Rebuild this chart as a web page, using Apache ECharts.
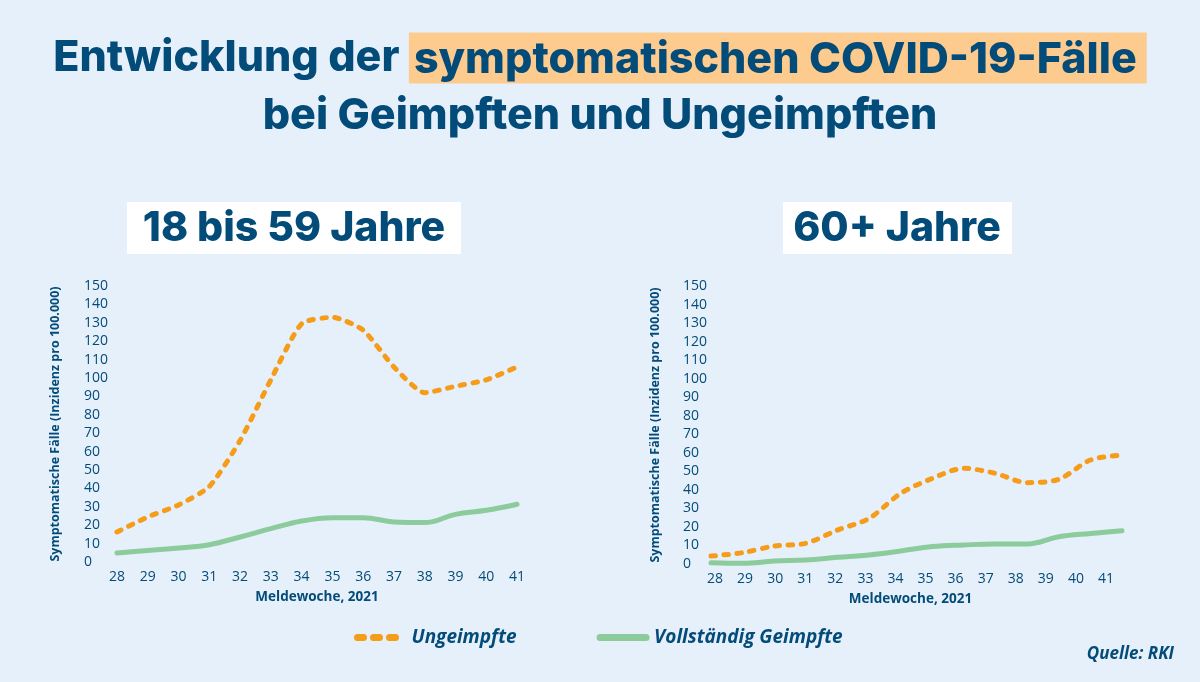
<!DOCTYPE html>
<html>
<head>
<meta charset="utf-8">
<script src="https://cdn.jsdelivr.net/npm/echarts@6/dist/echarts.min.js"></script>
<style>
  html, body { margin: 0; padding: 0; background: #e6f0fa; }
  #main { width: 1200px; height: 682px; }
</style>
</head>
<body>
<div id="main"></div>
<script>
// Meldewochen 2021
const weeks = ['28', '29', '30', '31', '32', '33', '34', '35', '36', '37', '38', '39', '40', '41'];

// 18 bis 59 Jahre
const youngUnvacc = [16.3, 24.5, 31, 41, 66, 99, 129.5, 133, 126, 106, 92, 95.5, 99, 106];
const youngVacc = [4.9, 6.3, 7.6, 9.4, 13.6, 18.1, 22.3, 24.1, 24.1, 21.8, 21.4, 25.9, 28.1, 31.4];

// 60+ Jahre
const oldUnvacc = [4.3, 6.1, 9.7, 11.2, 18.3, 24.6, 38.1, 46.2, 51.6, 48.9, 43.9, 45.7, 56.1, 58.8];
const oldVacc = [0.7, 0.4, 1.6, 2.2, 3.6, 4.9, 7.0, 9.4, 10.3, 10.8, 10.8, 14.7, 16.5, 18.0];

const yMin = 0;
const yMax = 150;
const yStep = 10;

const blue = '#034b78';
const orange = '#f59c1a';
const green = '#8ccb9b';
const labelFont = '"Open Sans", "Noto Sans", sans-serif';
const titleFont = 'Inter, Roboto, sans-serif';

const myChart = echarts.init(document.querySelector('#main'));

// y-Achse mit Beschriftung (links bündig)
const yAxisShown = (gridIndex, margin, gap) => ({
  type: 'value',
  gridIndex: gridIndex,
  min: yMin,
  max: yMax,
  interval: yStep,
  name: 'Symptomatische Fälle (Inzidenz pro 100.000)',
  nameLocation: 'middle',
  nameRotate: 90,
  nameGap: gap,
  nameTextStyle: { color: blue, fontSize: 12.5, fontWeight: 'bold', fontFamily: labelFont },
  axisLine: { show: false },
  axisTick: { show: false },
  splitLine: { show: false },
  axisLabel: { color: blue, fontSize: 14, fontFamily: labelFont, align: 'left', margin: margin },
});

const xAxisShown = (gridIndex) => ({
  type: 'category',
  gridIndex: gridIndex,
  data: weeks,
  boundaryGap: false,
  name: 'Meldewoche, 2021',
  nameLocation: 'middle',
  nameGap: 28,
  nameTextStyle: { color: blue, fontSize: 13.5, fontWeight: 'bold', fontFamily: labelFont },
  axisLine: { show: false },
  axisTick: { show: false },
  axisLabel: { color: blue, fontSize: 14, fontFamily: labelFont, margin: 8 },
});

const lineSeries = (name, data, color, dashed, xi, yi, smooth) => ({
  name: name,
  type: 'line',
  data: data,
  xAxisIndex: xi,
  yAxisIndex: yi,
  symbol: 'none',
  smooth: smooth,
  lineStyle: {
    color: color,
    width: 5,
    type: dashed ? [4.5, 8.5] : 'solid',
    cap: 'round',
    join: 'round',
  },
  itemStyle: { color: color },
});

const option = {
  backgroundColor: '#e6f0fa',
  animation: false,
  title: {
    text: '{a|Entwicklung der }{h|symptomatischen COVID-19-Fälle}\n{a|bei Geimpften und Ungeimpften}',
    left: 'center',
    top: 24,
    textStyle: {
      rich: {
        a: { color: blue, fontSize: 43, fontWeight: 800, fontFamily: titleFont, lineHeight: 58 },
        h: {
          color: blue, fontSize: 43, fontWeight: 800, fontFamily: titleFont,
          backgroundColor: '#fdcb8e', padding: [6, 10, 2, 5], lineHeight: 50,
        },
      },
    },
  },
  graphic: [
    {
      type: 'group',
      children: [
        { type: 'rect', shape: { x: 127, y: 202, width: 334, height: 52 }, style: { fill: '#ffffff' } },
        {
          type: 'text', x: 294, y: 229,
          style: { text: '18 bis 59 Jahre', fill: blue, font: '800 41px ' + titleFont, align: 'center', verticalAlign: 'middle' },
        },
        { type: 'rect', shape: { x: 783, y: 202, width: 229, height: 52 }, style: { fill: '#ffffff' } },
        {
          type: 'text', x: 897, y: 229,
          style: { text: '60+ Jahre', fill: blue, font: '800 41px ' + titleFont, align: 'center', verticalAlign: 'middle' },
        },
        {
          type: 'text', x: 1174, y: 654,
          style: { text: 'Quelle: RKI', fill: blue, font: 'italic bold 17px ' + labelFont, align: 'right', verticalAlign: 'middle' },
        },
      ],
    },
  ],
  legend: {
    left: 349,
    top: 623,
    itemWidth: 46,
    itemHeight: 14,
    itemGap: 80,
    itemStyle: { color: 'transparent', borderWidth: 0, opacity: 0 },
    textStyle: { color: blue, fontSize: 19, fontStyle: 'italic', fontWeight: 'bold', fontFamily: labelFont, padding: [0, 0, 0, 3] },
    data: [
      { name: 'Ungeimpfte', lineStyle: { color: orange, width: 7, type: [6, 10], cap: 'round' } },
      { name: 'Vollständig Geimpfte', lineStyle: { color: green, width: 7, type: 'solid', cap: 'round' } },
    ],
  },
  grid: [
    { left: 117, right: 683, top: 286, bottom: 120 },
    { left: 715, right: 94, top: 286, bottom: 118 },
    // Datenbereich rechts ist im Original leicht breiter als die Beschriftung
    { left: 711, right: 78, top: 286, bottom: 118 },
  ],
  xAxis: [
    xAxisShown(0),
    xAxisShown(1),
    { type: 'category', gridIndex: 2, data: weeks, boundaryGap: false, show: false },
  ],
  yAxis: [
    yAxisShown(0, 33, 55),
    yAxisShown(1, 32, 53),
    { type: 'value', gridIndex: 2, min: yMin, max: yMax, interval: yStep, show: false },
  ],
  series: [
    lineSeries('Ungeimpfte', youngUnvacc, orange, true, 0, 0, 0.2),
    lineSeries('Vollständig Geimpfte', youngVacc, green, false, 0, 0, 0.4),
    lineSeries('Ungeimpfte', oldUnvacc, orange, true, 2, 2, 0.3),
    lineSeries('Vollständig Geimpfte', oldVacc, green, false, 2, 2, 0.4),
  ],
};

option && myChart.setOption(option);
</script>
</body>
</html>
